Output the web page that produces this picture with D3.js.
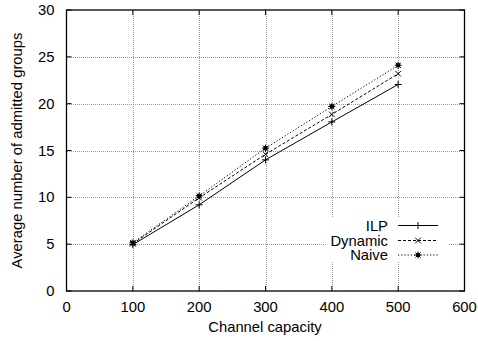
<!DOCTYPE html>
<html>
<head>
<meta charset="utf-8">
<title>Admitted groups</title>
<script src="https://d3js.org/d3.v7.min.js"></script>
<style>
  body { margin: 0; background: #fff; }
  text { font-family: "Liberation Sans", Arial, Helvetica, sans-serif; font-size: 14.8px; fill: #000; }
</style>
</head>
<body>
<div id="chart"></div>
<script>
// data
var capacity = [100, 200, 300, 400, 500];
var ilp = [4.95, 9.2, 14.0, 18.05, 22.05];
var dynamic = [5.05, 9.95, 14.6, 18.85, 23.2];
var naive = [5.15, 10.15, 15.25, 19.7, 24.1];
var xTicks = [0, 100, 200, 300, 400, 500, 600];
var yTicks = [0, 5, 10, 15, 20, 25, 30];
var seriesNames = ["ILP", "Dynamic", "Naive"];

var width = 478, height = 341;
var margin = {top: 10, right: 13.5, bottom: 50, left: 66.5};

var svg = d3.select("#chart").append("svg")
    .attr("width", width)
    .attr("height", height);

var x = d3.scaleLinear().domain([0, 600]).range([margin.left, width - margin.right]);
var y = d3.scaleLinear().domain([0, 30]).range([height - margin.bottom, margin.top]);

// grid (dotted gray)
var grid = svg.append("g").attr("stroke", "#999").attr("stroke-width", 1)
    .attr("stroke-dasharray", "1,1").attr("shape-rendering", "crispEdges");
xTicks.slice(1, -1).forEach(function(t) {
  grid.append("line").attr("x1", Math.round(x(t)) + .5).attr("x2", Math.round(x(t)) + .5)
      .attr("y1", y(0)).attr("y2", y(30));
});
yTicks.slice(1, -1).forEach(function(t) {
  grid.append("line").attr("y1", Math.round(y(t)) + .5).attr("y2", Math.round(y(t)) + .5)
      .attr("x1", x(0)).attr("x2", x(600));
});

// legend background hides grid
svg.append("rect").attr("x", 327).attr("y", 217).attr("width", 121).attr("height", 45).attr("fill", "#fff");

// ticks on all four sides, pointing inward
var tl = 5;
var tk = svg.append("g").attr("stroke", "#000").attr("stroke-width", 1);
xTicks.forEach(function(t) {
  tk.append("line").attr("x1", x(t)).attr("x2", x(t)).attr("y1", y(0)).attr("y2", y(0) - tl);
  tk.append("line").attr("x1", x(t)).attr("x2", x(t)).attr("y1", y(30)).attr("y2", y(30) + tl);
});
yTicks.forEach(function(t) {
  tk.append("line").attr("y1", y(t)).attr("y2", y(t)).attr("x1", x(0)).attr("x2", x(0) + tl);
  tk.append("line").attr("y1", y(t)).attr("y2", y(t)).attr("x1", x(600)).attr("x2", x(600) - tl);
});

// frame
svg.append("rect").attr("x", x(0)).attr("y", y(30))
    .attr("width", x(600) - x(0)).attr("height", y(0) - y(30))
    .attr("fill", "none").attr("stroke", "#000").attr("stroke-width", 1.3);

// tick labels
svg.append("g").selectAll("text").data(xTicks).join("text")
    .attr("x", function(d) { return x(d); }).attr("y", y(0) + 21)
    .attr("text-anchor", "middle").text(function(d) { return d; });
svg.append("g").selectAll("text").data(yTicks).join("text")
    .attr("x", x(0) - 12).attr("y", function(d) { return y(d) + 5; })
    .attr("text-anchor", "end").text(function(d) { return d; });

// axis titles
svg.append("text").attr("x", 265).attr("y", 332)
    .attr("text-anchor", "middle").text("Channel capacity");
svg.append("text").attr("transform", "translate(22," + (y(15)) + ") rotate(-90)")
    .attr("text-anchor", "middle").text("Average number of admitted groups");

// series
var series = [
  {name: seriesNames[0], values: ilp, dash: null, marker: "plus"},
  {name: seriesNames[1], values: dynamic, dash: "3,2", marker: "cross"},
  {name: seriesNames[2], values: naive, dash: "1.2,2", marker: "star"}
];

function drawMarker(g, type, cx, cy) {
  var s = 3.5;
  if (type === "plus" || type === "star") {
    g.append("line").attr("x1", cx - s).attr("x2", cx + s).attr("y1", cy).attr("y2", cy);
    g.append("line").attr("x1", cx).attr("x2", cx).attr("y1", cy - s).attr("y2", cy + s);
  }
  if (type === "cross" || type === "star") {
    var c = type === "star" ? 2.6 : 2.8;
    g.append("line").attr("x1", cx - c).attr("x2", cx + c).attr("y1", cy - c).attr("y2", cy + c);
    g.append("line").attr("x1", cx - c).attr("x2", cx + c).attr("y1", cy + c).attr("y2", cy - c);
  }
  if (type === "star") {
    g.append("rect").attr("x", cx - 2).attr("y", cy - 2).attr("width", 4).attr("height", 4)
        .attr("fill", "#000").attr("stroke", "none");
  }
}

var line = d3.line()
    .x(function(d, i) { return x(capacity[i]); })
    .y(function(d) { return y(d); });

series.forEach(function(s) {
  svg.append("path").datum(s.values)
      .attr("d", line).attr("fill", "none").attr("stroke", "#000").attr("stroke-width", 1)
      .attr("stroke-dasharray", s.dash);
  var g = svg.append("g").attr("stroke", "#000").attr("stroke-width", 1);
  s.values.forEach(function(v, i) { drawMarker(g, s.marker, x(capacity[i]), y(v)); });
});

// legend
var legY = [225.5, 240.5, 255];
series.forEach(function(s, i) {
  svg.append("text").attr("x", 388).attr("y", legY[i] + 5).attr("text-anchor", "end").text(s.name);
  svg.append("line").attr("x1", 398).attr("x2", 438).attr("y1", legY[i]).attr("y2", legY[i])
      .attr("stroke", "#000").attr("stroke-width", 1).attr("stroke-dasharray", s.dash);
  var g = svg.append("g").attr("stroke", "#000").attr("stroke-width", 1);
  drawMarker(g, s.marker, 418, legY[i]);
});
</script>
</body>
</html>
